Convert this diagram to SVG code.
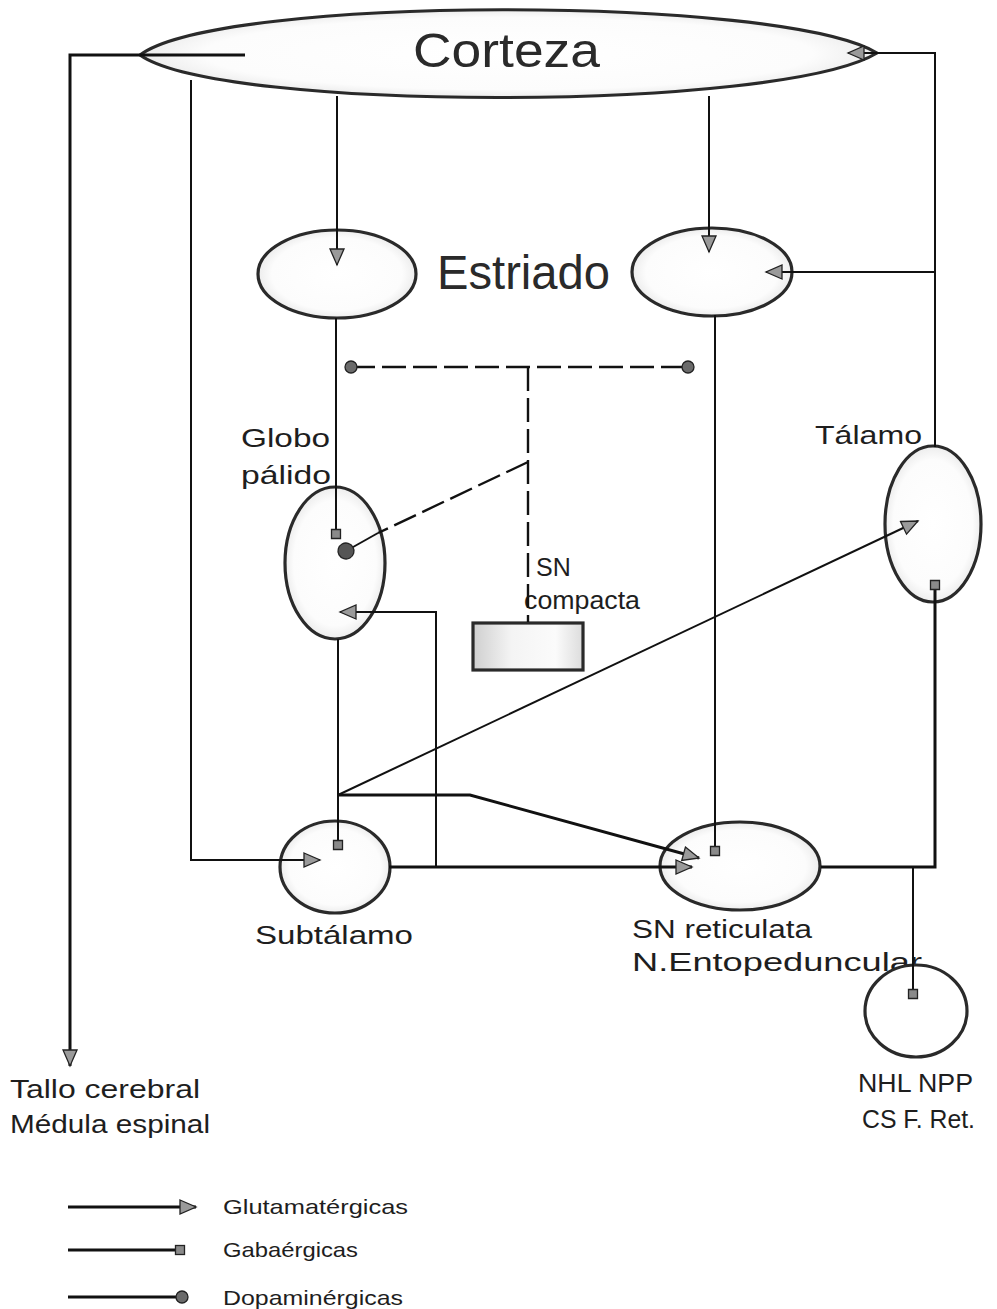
<svg xmlns="http://www.w3.org/2000/svg" width="997" height="1309" viewBox="0 0 997 1309">
<style>
.node{stroke:#2a2a2a;stroke-width:3.2}
.lbl{font-family:"Liberation Sans",Arial,sans-serif;fill:#1e1e1e;font-size:25px}
.big{font-family:"Liberation Sans",Arial,sans-serif;fill:#2a2a2a;font-size:48px}
.leg{font-family:"Liberation Sans",Arial,sans-serif;fill:#1e1e1e;font-size:21px}
.c{fill:none;stroke:#111;stroke-width:2}
.thick{stroke-width:3}
.dash{stroke-dasharray:24 7;stroke-width:2.4}
</style>
<defs>
<radialGradient id="fillg" cx="50%" cy="50%" r="55%">
<stop offset="0" stop-color="#ffffff"/>
<stop offset="0.75" stop-color="#fcfcfc"/>
<stop offset="1" stop-color="#e4e4e4"/>
</radialGradient>
<linearGradient id="boxg" x1="0" y1="0" x2="1" y2="0">
<stop offset="0" stop-color="#cfcfcf"/>
<stop offset="0.35" stop-color="#f4f4f4"/>
<stop offset="0.75" stop-color="#fbfbfb"/>
<stop offset="1" stop-color="#dcdcdc"/>
</linearGradient>
<marker id="glut" markerUnits="userSpaceOnUse" markerWidth="22" markerHeight="18" refX="18" refY="9" orient="auto">
<path d="M2,2 L18,9 L2,16 Z" fill="#9a9a9a" stroke="#222" stroke-width="1.3" stroke-dasharray="none"/>
</marker>
<marker id="gaba" markerUnits="userSpaceOnUse" markerWidth="12" markerHeight="12" refX="6" refY="6" orient="auto">
<rect x="1.5" y="1.5" width="9" height="9" fill="#8a8a8a" stroke="#222" stroke-width="1.3" stroke-dasharray="none"/>
</marker>
<marker id="dopa" markerUnits="userSpaceOnUse" markerWidth="16" markerHeight="16" refX="8" refY="8" orient="auto">
<circle cx="8" cy="8" r="6" fill="#6a6a6a" stroke="#222" stroke-width="1.3" stroke-dasharray="none"/>
</marker>
<marker id="dopaL" markerUnits="userSpaceOnUse" markerWidth="20" markerHeight="20" refX="10" refY="10" orient="auto">
<circle cx="10" cy="10" r="8" fill="#555" stroke="#222" stroke-width="1.3" stroke-dasharray="none"/>
</marker>
</defs>
<rect width="997" height="1309" fill="#ffffff"/>

<g id="corteza">
<path class="node" fill="url(#fillg)" d="M140,55 C220,-5 780,-5 877,53 C780,112 220,112 140,55 Z"/>
<text class="big" x="413" y="67" textLength="187" lengthAdjust="spacingAndGlyphs">Corteza</text>
</g>

<g id="estriado">
<ellipse class="node" fill="url(#fillg)" cx="337" cy="274" rx="79" ry="44"/>
<ellipse class="node" fill="url(#fillg)" cx="712" cy="272" rx="80" ry="44"/>
<text class="big" x="437" y="289" textLength="173" lengthAdjust="spacingAndGlyphs">Estriado</text>
</g>

<g id="globo-palido">
<ellipse class="node" fill="url(#fillg)" cx="335" cy="563" rx="50" ry="76"/>
<text class="lbl" x="241" y="447" textLength="89" lengthAdjust="spacingAndGlyphs">Globo</text>
<text class="lbl" x="241" y="484" textLength="90" lengthAdjust="spacingAndGlyphs">pálido</text>
</g>

<g id="sn-compacta">
<rect class="node" x="473" y="623" width="110" height="47" fill="url(#boxg)" stroke-width="2.4"/>
<text class="lbl" x="536" y="576">SN</text>
<text class="lbl" x="524" y="609" textLength="116" lengthAdjust="spacingAndGlyphs">compacta</text>
</g>

<g id="talamo">
<ellipse class="node" fill="url(#fillg)" cx="933" cy="524" rx="48" ry="78"/>
<text class="lbl" x="815" y="444" textLength="107" lengthAdjust="spacingAndGlyphs">Tálamo</text>
</g>

<g id="subtalamo">
<ellipse class="node" fill="url(#fillg)" cx="335" cy="867" rx="55" ry="46"/>
<text class="lbl" x="255" y="944" textLength="158" lengthAdjust="spacingAndGlyphs">Subtálamo</text>
</g>

<g id="sn-reticulata">
<ellipse class="node" fill="url(#fillg)" cx="740" cy="866" rx="80" ry="44"/>
<text class="lbl" x="632" y="938" textLength="180" lengthAdjust="spacingAndGlyphs">SN reticulata</text>
<text class="lbl" x="632" y="971" textLength="290" lengthAdjust="spacingAndGlyphs">N.Entopeduncular</text>
</g>

<g id="nhl">
<ellipse class="node" fill="#ffffff" cx="916" cy="1011" rx="51" ry="46"/>
<text class="lbl" x="858" y="1092" textLength="115" lengthAdjust="spacingAndGlyphs">NHL NPP</text>
<text class="lbl" x="862" y="1128" textLength="113" lengthAdjust="spacingAndGlyphs">CS F. Ret.</text>
</g>

<g id="tallo">
<text class="lbl" x="10" y="1098" textLength="190" lengthAdjust="spacingAndGlyphs">Tallo cerebral</text>
<text class="lbl" x="10" y="1133" textLength="200" lengthAdjust="spacingAndGlyphs">Médula espinal</text>
</g>

<g id="connectors">
<path class="c thick" d="M245,55 H70 V1066" marker-end="url(#glut)"/>
<path class="c" d="M191,80 V860 H320" marker-end="url(#glut)"/>
<path class="c" d="M337,96 V265" marker-end="url(#glut)"/>
<path class="c" d="M709,96 V252" marker-end="url(#glut)"/>
<path class="c" d="M935,447 V53 H848" marker-end="url(#glut)"/>
<path class="c" d="M935,272 H766" marker-end="url(#glut)"/>
<path class="c" d="M336,318 V534" marker-end="url(#gaba)"/>
<path class="c" d="M715,315 V851" marker-end="url(#gaba)"/>
<path class="c dash" d="M351,367 H688" marker-start="url(#dopa)" marker-end="url(#dopa)"/>
<path class="c dash" d="M528,367 V622"/>
<path class="c dash" d="M528,462 L378,533"/>
<path class="c" d="M378,533 L346,551" marker-end="url(#dopaL)"/>
<path class="c" d="M338,639 V845" marker-end="url(#gaba)"/>
<path class="c" d="M389,867 H436 V612 H340" marker-end="url(#glut)"/>
<path class="c thick" d="M389,867 H692" marker-end="url(#glut)"/>
<path class="c" d="M338,795 L918,521" marker-end="url(#glut)"/>
<path class="c thick" d="M338,795 H470 L699,858" marker-end="url(#glut)"/>
<path class="c thick" d="M821,867 H935 V585" marker-end="url(#gaba)"/>
<path class="c" d="M913,867 V994" marker-end="url(#gaba)"/>
</g>

<g id="leyenda">
<path class="c thick" d="M68,1207 H196" marker-end="url(#glut)"/>
<path class="c thick" d="M68,1250 H180" marker-end="url(#gaba)"/>
<path class="c thick" d="M68,1297 H182" marker-end="url(#dopa)"/>
<text class="leg" x="223" y="1214" textLength="185" lengthAdjust="spacingAndGlyphs">Glutamatérgicas</text>
<text class="leg" x="223" y="1257" textLength="135" lengthAdjust="spacingAndGlyphs">Gabaérgicas</text>
<text class="leg" x="223" y="1305" textLength="180" lengthAdjust="spacingAndGlyphs">Dopaminérgicas</text>
</g>
</svg>
